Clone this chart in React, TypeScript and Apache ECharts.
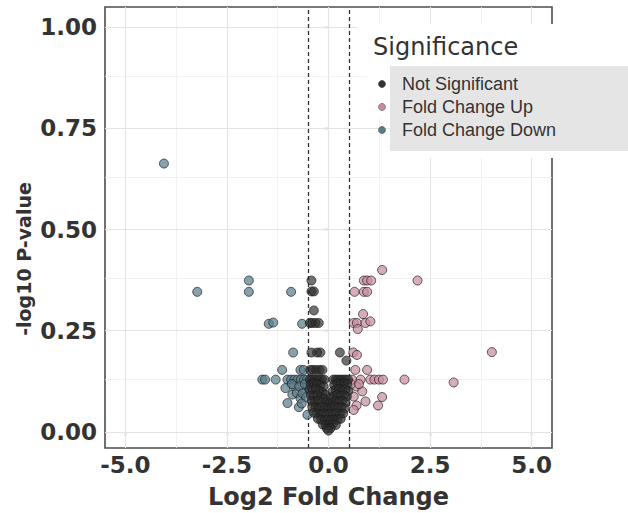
import React, { useEffect, useRef } from "react";
import * as echarts from "echarts";

const xTicks = [-5, -2.5, 0, 2.5, 5];
const yTicks = [0, 0.25, 0.5, 0.75, 1];
const xMinorGrid = [-3.75, -1.25, 1.25, 3.75];
const yMinorGrid = [0.125, 0.375, 0.625, 0.875];
const thresholds = [-0.5, 0.5];

const legendLabels = ["Not Significant", "Fold Change Up", "Fold Change Down"];

const downPoints: [number, number][] = [
  [-4.05, 0.663], [-3.23, 0.346], [-1.96, 0.374], [-1.96, 0.346], [-0.92, 0.346],
  [-1.47, 0.267], [-1.36, 0.27], [-0.65, 0.267], [-0.87, 0.196], [-1.14, 0.153],
  [-0.69, 0.153], [-0.61, 0.153], [-1.63, 0.129], [-1.56, 0.129], [-1.3, 0.129],
  [-1.01, 0.129], [-0.92, 0.129], [-0.84, 0.129], [-0.76, 0.129], [-0.68, 0.129],
  [-0.6, 0.129], [-0.53, 0.129], [-1.06, 0.108], [-0.89, 0.092], [-1.01, 0.071],
  [-0.73, 0.061], [-0.52, 0.042], [-0.85, 0.113], [-0.78, 0.096], [-0.69, 0.083],
  [-0.61, 0.108], [-0.9, 0.118], [-0.72, 0.112], [-0.64, 0.095], [-0.55, 0.085],
  [-0.58, 0.118], [-0.66, 0.07],
];

const upPoints: [number, number][] = [
  [1.32, 0.4], [2.19, 0.374], [0.87, 0.374], [0.95, 0.374], [1.05, 0.374],
  [0.64, 0.346], [0.87, 0.346], [0.95, 0.346], [0.85, 0.291], [0.62, 0.269],
  [0.7, 0.269], [0.91, 0.269], [1.03, 0.273], [0.72, 0.254], [4.02, 0.197],
  [0.61, 0.196], [0.7, 0.19], [0.66, 0.153], [0.95, 0.153], [0.58, 0.129],
  [0.79, 0.129], [1.03, 0.129], [1.13, 0.129], [1.24, 0.129], [1.34, 0.129],
  [1.87, 0.129], [3.08, 0.122], [0.69, 0.112], [0.83, 0.1], [0.62, 0.087],
  [0.91, 0.075], [1.32, 0.086], [0.69, 0.065], [1.22, 0.065], [0.62, 0.054],
  [0.56, 0.118], [0.75, 0.118],
];

const nsPoints: [number, number][] = [
  [-0.42, 0.374], [-0.42, 0.347], [-0.36, 0.347], [-0.36, 0.3], [-0.46, 0.269],
  [-0.4, 0.269], [-0.32, 0.269], [-0.24, 0.269], [-0.42, 0.196], [-0.28, 0.196],
  [-0.2, 0.196], [0.28, 0.196], [0.44, 0.176],
  [-0.45, 0.153], [-0.38, 0.153], [-0.3, 0.153], [-0.22, 0.153], [-0.15, 0.153],
  [-0.46, 0.129], [-0.4, 0.129], [-0.34, 0.129], [-0.28, 0.129], [-0.22, 0.129],
  [-0.16, 0.129], [-0.1, 0.129], [0.12, 0.129], [0.18, 0.129], [0.24, 0.129],
  [0.3, 0.129], [0.36, 0.129], [0.42, 0.129], [0.48, 0.129],
  [-0.44, 0.118], [-0.36, 0.12], [-0.28, 0.118], [-0.2, 0.115], [-0.12, 0.112],
  [-0.47, 0.105], [-0.39, 0.104], [-0.31, 0.106], [-0.23, 0.102], [-0.15, 0.098], [-0.08, 0.092],
  [-0.43, 0.09], [-0.35, 0.088], [-0.27, 0.091], [-0.19, 0.086], [-0.11, 0.082], [-0.05, 0.075],
  [0.14, 0.116], [0.22, 0.119], [0.3, 0.117], [0.38, 0.12], [0.46, 0.118],
  [0.1, 0.1], [0.18, 0.104], [0.26, 0.106], [0.34, 0.103], [0.42, 0.105], [0.49, 0.101],
  [0.06, 0.085], [0.14, 0.088], [0.22, 0.092], [0.3, 0.089], [0.38, 0.09], [0.45, 0.087],
  [-0.41, 0.076], [-0.33, 0.074], [-0.25, 0.077], [-0.17, 0.072], [0.02, 0.07],
  [0.1, 0.073], [0.18, 0.076], [0.26, 0.074], [0.34, 0.077], [0.42, 0.073],
  [-0.4, 0.062], [-0.32, 0.06], [-0.24, 0.058], [-0.16, 0.061], [-0.08, 0.06],
  [0.0, 0.058], [0.08, 0.06], [0.16, 0.062], [0.24, 0.059], [0.32, 0.061], [0.4, 0.058],
  [-0.36, 0.047], [-0.28, 0.045], [-0.2, 0.044], [-0.12, 0.046], [-0.04, 0.043],
  [0.04, 0.045], [0.12, 0.044], [0.2, 0.046], [0.28, 0.043], [0.36, 0.045],
  [-0.26, 0.032], [-0.18, 0.03], [-0.1, 0.028], [-0.02, 0.03], [0.06, 0.029],
  [0.14, 0.031], [0.22, 0.03], [0.3, 0.032],
  [-0.14, 0.018], [-0.06, 0.016], [0.02, 0.017], [0.1, 0.019], [0.18, 0.017],
  [-0.04, 0.008], [0.05, 0.009], [0.0, 0.003],
];

const NS_COLOR = "rgba(45,45,45,0.85)";
const UP_COLOR = "rgba(201,142,160,0.9)";
const DOWN_COLOR = "rgba(90,125,138,0.9)";
const LEGEND_COLORS = ["#333333", "#c48d9c", "#5b7b87"];

export default function App() {
  const ref = useRef<HTMLDivElement>(null);

  useEffect(() => {
    if (!ref.current) return;
    const chart = echarts.init(ref.current, undefined, { renderer: "svg" });

    const majorGrid = { color: "#e4e4e4", width: 1.2, type: "solid" };
    const minorGrid = { color: "#efefef", width: 0.8, type: "solid" };
    const gridLines: any[] = [
      ...xTicks.map((v) => ({ xAxis: v, lineStyle: majorGrid })),
      ...xMinorGrid.map((v) => ({ xAxis: v, lineStyle: minorGrid })),
      ...yTicks.map((v) => ({ yAxis: v, lineStyle: majorGrid })),
      ...yMinorGrid.map((v) => ({ yAxis: v, lineStyle: minorGrid })),
    ];

    const pointSeries = (name: string, data: [number, number][], color: string) => ({
      name,
      type: "scatter",
      data,
      z: 3,
      symbol: "circle",
      symbolSize: 9,
      itemStyle: { color, borderColor: "rgba(25,25,25,0.85)", borderWidth: 1 },
      emphasis: { disabled: true },
    });

    const axisFont = {
      fontFamily: "DejaVu Sans",
      fontWeight: "bold",
      fontSize: 23,
      color: "#333333",
    };

    const option: any = {
      animation: false,
      grid: {
        left: 105,
        right: 76,
        top: 7,
        bottom: 65,
        show: true,
        borderColor: "#4d4d4d",
        borderWidth: 1.6,
        backgroundColor: "transparent",
      },
      xAxis: {
        type: "value",
        min: -5.5,
        max: 5.5,
        axisLine: { show: false },
        splitLine: { show: false },
        axisTick: {
          show: true,
          customValues: xTicks,
          length: 4,
          lineStyle: { color: "#333", width: 1.2 },
        },
        axisLabel: {
          customValues: xTicks,
          margin: 5,
          formatter: (v: number) => v.toFixed(1),
          ...axisFont,
        },
      },
      yAxis: {
        type: "value",
        min: -0.04,
        max: 1.05,
        axisLine: { show: false },
        splitLine: { show: false },
        axisTick: {
          show: true,
          customValues: yTicks,
          length: 4,
          lineStyle: { color: "#333", width: 1.2 },
        },
        axisLabel: {
          customValues: yTicks,
          margin: 8,
          formatter: (v: number) => v.toFixed(2),
          ...axisFont,
        },
      },
      series: [
        {
          type: "scatter",
          data: [],
          silent: true,
          markLine: {
            silent: true,
            z: 1,
            symbol: ["none", "none"],
            label: { show: false },
            emphasis: { disabled: true },
            data: gridLines,
          },
        },
        {
          type: "scatter",
          data: [],
          silent: true,
          markLine: {
            silent: true,
            z: 1.5,
            symbol: ["none", "none"],
            label: { show: false },
            emphasis: { disabled: true },
            lineStyle: { color: "#333333", width: 1.3, type: [4, 3] },
            data: thresholds.map((v) => ({ xAxis: v })),
          },
        },
        pointSeries("Fold Change Down", downPoints, DOWN_COLOR),
        pointSeries("Fold Change Up", upPoints, UP_COLOR),
        pointSeries("Not Significant", nsPoints, NS_COLOR),
      ],
      graphic: [
        { type: "rect", z: 100, silent: true, shape: { x: 358, y: 24, width: 270, height: 42 }, style: { fill: "#ffffff" } },
        { type: "rect", z: 100, silent: true, shape: { x: 367, y: 66, width: 261, height: 52 }, style: { fill: "#ffffff" } },
        { type: "rect", z: 100, silent: true, shape: { x: 390, y: 118, width: 238, height: 40 }, style: { fill: "#ffffff" } },
        { type: "rect", z: 101, silent: true, shape: { x: 390, y: 66, width: 238, height: 85 }, style: { fill: "#e6e5e6" } },
        {
          type: "text",
          z: 102,
          x: 373,
          y: 47,
          style: {
            text: "Significance",
            font: "normal 24px 'DejaVu Sans'",
            fill: "#333333",
            textAlign: "left",
            textVerticalAlign: "middle",
          },
        },
        ...legendLabels.flatMap((label, i) => [
          {
            type: "circle",
            z: 102,
            shape: { cx: 382, cy: 84 + i * 23, r: 3.6 },
            style: { fill: LEGEND_COLORS[i], stroke: "rgba(40,40,40,0.6)", lineWidth: 0.6 },
          },
          {
            type: "text",
            z: 102,
            x: 402,
            y: 84 + i * 23,
            style: {
              text: label,
              font: "normal 18px 'Liberation Sans', Arial",
              fill: "#333333",
              textAlign: "left",
              textVerticalAlign: "middle",
            },
          },
        ]),
        {
          type: "text",
          z: 102,
          x: 24,
          y: 259,
          rotation: Math.PI / 2,
          style: {
            text: "-log10 P-value",
            font: "bold 19px 'DejaVu Sans'",
            fill: "#333333",
            textAlign: "center",
            textVerticalAlign: "middle",
          },
        },
        {
          type: "text",
          z: 102,
          x: 328.5,
          y: 497,
          style: {
            text: "Log2 Fold Change",
            font: "bold 24px 'DejaVu Sans'",
            fill: "#333333",
            textAlign: "center",
            textVerticalAlign: "middle",
          },
        },
      ],
    };

    chart.setOption(option);
    return () => chart.dispose();
  }, []);

  return (
    <div
      ref={ref}
      style={{ position: "fixed", left: 0, top: 0, width: 628, height: 513, background: "#ffffff" }}
    />
  );
}
